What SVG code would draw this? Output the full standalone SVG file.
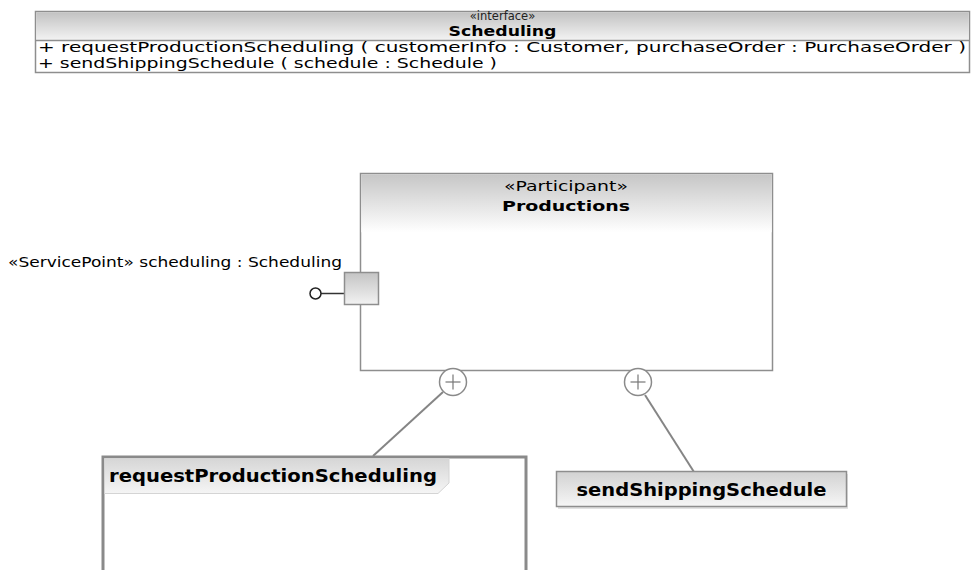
<svg xmlns="http://www.w3.org/2000/svg" width="974" height="570" viewBox="0 0 974 570">
  <defs>
    <linearGradient id="gHead" x1="0" y1="0" x2="0" y2="1">
      <stop offset="0" stop-color="#c2c2c2"/>
      <stop offset="1" stop-color="#f3f3f3"/>
    </linearGradient>
    <linearGradient id="gPart" x1="0" y1="0" x2="0" y2="1">
      <stop offset="0" stop-color="#c6c6c6"/>
      <stop offset="1" stop-color="#ffffff"/>
    </linearGradient>
    <linearGradient id="gPort" x1="0" y1="0" x2="0" y2="1">
      <stop offset="0" stop-color="#c4c4c4"/>
      <stop offset="1" stop-color="#f2f2f2"/>
    </linearGradient>
    <linearGradient id="gOp" x1="0" y1="0" x2="0" y2="1">
      <stop offset="0" stop-color="#d2d2d2"/>
      <stop offset="1" stop-color="#f6f6f6"/>
    </linearGradient>
    <linearGradient id="gTab" x1="0" y1="0" x2="0" y2="1">
      <stop offset="0" stop-color="#d6d6d6"/>
      <stop offset="1" stop-color="#f5f5f5"/>
    </linearGradient>
  </defs>
  <style>
    text { font-family: "DejaVu Sans", Verdana, sans-serif; fill: #000; }
    .st { font-size: 11.5px; fill: #222; }
    .nm { font-size: 14.5px; font-weight: bold; }
    .op { font-size: 14.5px; }
    .lbl { font-size: 14px; }
    .big { font-size: 17px; font-weight: bold; }
    .box { stroke: #8e8e8e; stroke-width: 1.5; }
    .conn { stroke: #858585; stroke-width: 2; fill: none; }
    .ball { fill: #fff; stroke: #8a8a8a; stroke-width: 1.5; }
    .plus { stroke: #777; stroke-width: 1.2; }
  </style>

  <!-- interface Scheduling -->
  <g id="scheduling-interface">
    <rect x="35.5" y="11.5" width="934" height="61" fill="#fff" class="box"/>
    <rect x="36.25" y="12.25" width="932.5" height="28" fill="url(#gHead)"/>
    <line x1="35.5" y1="40.5" x2="969.5" y2="40.5" class="box"/>
    <text x="502.5" y="19.5" text-anchor="middle" class="st">«interface»</text>
    <text x="502.5" y="36" text-anchor="middle" class="nm" textLength="108" lengthAdjust="spacingAndGlyphs">Scheduling</text>
    <text x="38" y="52" class="op" textLength="928" lengthAdjust="spacingAndGlyphs">+ requestProductionScheduling ( customerInfo : Customer, purchaseOrder : PurchaseOrder )</text>
    <text x="38" y="68" class="op" textLength="459" lengthAdjust="spacingAndGlyphs">+ sendShippingSchedule ( schedule : Schedule )</text>
  </g>

  <!-- connectors from the provided-operation balls to the operations -->
  <g id="connectors">
    <line x1="443" y1="392" x2="373" y2="456" class="conn"/>
    <line x1="645" y1="395" x2="694" y2="472" class="conn"/>
    <line x1="321" y1="293.5" x2="344" y2="293.5" stroke="#333" stroke-width="1.5"/>
  </g>

  <!-- Participant Productions -->
  <g id="productions">
    <rect x="360.5" y="173.5" width="412" height="197" fill="#fff" class="box"/>
    <rect x="361.25" y="174.25" width="410.5" height="58" fill="url(#gPart)"/>
    <text x="566" y="191" text-anchor="middle" class="lbl" textLength="124" lengthAdjust="spacingAndGlyphs">«Participant»</text>
    <text x="566" y="211" text-anchor="middle" class="nm" textLength="128" lengthAdjust="spacingAndGlyphs">Productions</text>
  </g>

  <!-- service point port with lollipop -->
  <g id="scheduling-port">
    <rect x="344.5" y="272.5" width="34" height="32" fill="url(#gPort)" stroke="#8e8e8e" stroke-width="1.5"/>
    <circle cx="315.5" cy="293.5" r="5.5" fill="#fff" stroke="#222" stroke-width="1.5"/>
    <text x="8" y="267" class="lbl" textLength="334" lengthAdjust="spacingAndGlyphs">«ServicePoint» scheduling : Scheduling</text>
  </g>

  <!-- operation balls on the participant's lower edge -->
  <g id="ball-request">
    <circle cx="453" cy="382" r="13.5" class="ball"/>
    <line x1="445.5" y1="382" x2="460.5" y2="382" class="plus"/>
    <line x1="453" y1="374.5" x2="453" y2="389.5" class="plus"/>
  </g>
  <g id="ball-shipping">
    <circle cx="638" cy="382" r="13.5" class="ball"/>
    <line x1="630.5" y1="382" x2="645.5" y2="382" class="plus"/>
    <line x1="638" y1="374.5" x2="638" y2="389.5" class="plus"/>
  </g>

  <!-- requestProductionScheduling frame -->
  <g id="request-production-scheduling">
    <rect x="103" y="457" width="423" height="120" fill="#fff" stroke="#8a8a8a" stroke-width="3"/>
    <path d="M104.5 458.5 H449 V483 L438 493.5 H104.5 Z" fill="url(#gTab)" stroke="#d4d4d4" stroke-width="1"/>
    <text x="109" y="482" class="big" textLength="328" lengthAdjust="spacingAndGlyphs">requestProductionScheduling</text>
  </g>

  <!-- sendShippingSchedule operation -->
  <g id="send-shipping-schedule">
    <rect x="558" y="474" width="290" height="35" fill="#e2e2e2"/>
    <rect x="556.5" y="471.5" width="290" height="35" fill="url(#gOp)" stroke="#8e8e8e" stroke-width="1.5"/>
    <text x="701.5" y="496" text-anchor="middle" class="big" textLength="250" lengthAdjust="spacingAndGlyphs">sendShippingSchedule</text>
  </g>
</svg>
